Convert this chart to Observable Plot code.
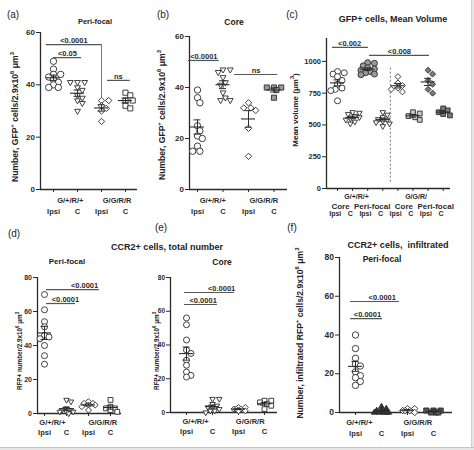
<!DOCTYPE html>
<html><head><meta charset="utf-8">
<script src="https://cdn.jsdelivr.net/npm/d3@7"></script>
<script src="https://cdn.jsdelivr.net/npm/@observablehq/plot@0.6"></script>
<style>
body{margin:0;background:#fff;font-family:"Liberation Sans",Arial,sans-serif;}
#fig{position:relative;width:474px;height:450px;overflow:hidden;background:#fff;}
.p{position:absolute;}
.t{position:absolute;white-space:nowrap;color:#222;transform:translate(-50%,-50%);line-height:1;}
.b{font-weight:bold;}
.rot{transform:translate(-50%,-50%) rotate(-90deg);}
sup{font-size:70%;vertical-align:super;line-height:0;}
</style></head><body><div id="fig"></div>
<script>
// ---------------- data ----------------
const genotypes = ["G/+/R/+", "G/G/R/R"];
const sides = ["Ipsi", "C"];
// (a) GFP+ cells, peri-focal
const a_wtIpsi = [49, 46, 44, 44, 43, 42, 41, 40, 39, 39];
const a_wtC    = [41, 41, 41, 39, 38, 36, 35, 34, 33, 30];
const a_koIpsi = [34, 34, 32, 31, 30, 26];
const a_koC    = [37, 36, 34, 34, 32, 31];
// (b) GFP+ cells, core
const b_wtIpsi = [39, 36, 34, 25, 23, 21, 20, 17, 15, 15];
const b_wtC    = [47, 47, 46, 44, 42, 41, 38, 36, 35, 35];
const b_koIpsi = [34, 32, 32, 31, 24, 13];
const b_koC    = [40, 40, 40, 39, 36];
// (c) GFP+ cells mean volume
const c_wtCoreIpsi = [920, 910, 900, 880, 850, 820, 790, 780, 770, 690];
const c_wtCoreC    = [600, 595, 585, 570, 560, 550, 540, 525, 510];
const c_wtPeriIpsi = [990, 985, 965, 950, 940, 930, 920, 910, 900, 895];
const c_wtPeriC    = [600, 580, 560, 545, 540, 530, 520, 510, 490];
const c_koCoreIpsi = [880, 830, 810, 790, 780, 760];
const c_koCoreC    = [600, 590, 570, 560, 540];
const c_koPeriIpsi = [930, 900, 850, 820, 780, 750];
const c_koPeriC    = [630, 615, 600, 585, 575];
// (d) CCR2+ total, peri-focal
const d_wtIpsi = [70, 61, 54, 51, 46, 45, 44, 40, 34, 29];
const d_wtC    = [8, 7, 3, 2, 2, 2, 1, 1, 1, 0];
const d_koIpsi = [7, 6, 6, 5, 5, 4, 2];
const d_koC    = [8, 4, 3, 3, 2, 1];
// (e) CCR2+ total, core
const e_wtIpsi = [56, 52, 43, 37, 35, 31, 28, 24, 22, 21];
const e_wtC    = [8, 8, 5, 4, 3, 3, 2, 1, 1, 0];
const e_koIpsi = [3, 3, 2, 2, 2, 1, 1];
const e_koC    = [7, 7, 6, 5, 4, 2];
// (f) CCR2+ infiltrated, peri-focal
const f_wtIpsi = [40, 33, 28, 25, 24, 21, 19, 18, 16, 14];
const f_wtC    = [3, 2, 1, 1, 0, 0, 0, 0, 0];
const f_koIpsi = [2, 2, 1, 1, 1, 0];
const f_koC    = [1, 1, 1, 0, 0, 0];
// significance brackets (from group slot, to group slot, y value, label, label slot)
const a_sig = [{t:"<0.0001", x1:-0.3, x2:2, y:55.4, tx:0.85, drop:35}, {t:"<0.05", x1:0, x2:1.17, y:50.4, tx:0.58}, {t:"ns", x1:2.25, x2:3.2, y:41.7, tx:2.7}];
const b_sig = [{t:"<0.0001", x1:-0.35, x2:0.85, y:50.6, tx:0.25}, {t:"ns", x1:1.46, x2:3.15, y:45.1, tx:2.3}];
const c_sig = [{t:"<0.002", x1:-0.33, x2:2.05, y:1110, tx:0.8}, {t:"<0.008", x1:2.12, x2:6.09, y:1047, tx:4.1}];
const d_sig = [{t:"<0.0001", x1:0.09, x2:2.5, y:72.9, tx:1.82}, {t:"<0.0001", x1:0.09, x2:1.41, y:64.7, tx:0.95}];
const e_sig = [{t:"<0.0001", x1:-0.08, x2:1.85, y:71.1, tx:1.35}, {t:"<0.0001", x1:-0.08, x2:1.19, y:64, tx:0.64}];
const f_sig = [{t:"<0.0001", x1:-0.19, x2:1.69, y:57.3, tx:1.03}, {t:"<0.0001", x1:-0.19, x2:1.04, y:48.5, tx:0.46}];

// ---------------- drawing ----------------
const FONT = '"Liberation Sans", Arial, sans-serif';
const INK = "#2b2b2b";
const triDown = {draw(ctx, size){const s=Math.sqrt(4*size/Math.sqrt(3)), h=s*Math.sqrt(3)/2; ctx.moveTo(0,2*h/3); ctx.lineTo(-s/2,-h/3); ctx.lineTo(s/2,-h/3); ctx.closePath();}};
const triUp = {draw(ctx, size){const s=Math.sqrt(4*size/Math.sqrt(3)), h=s*Math.sqrt(3)/2; ctx.moveTo(0,-2*h/3); ctx.lineTo(-s/2,h/3); ctx.lineTo(s/2,h/3); ctx.closePath();}};
const fig = document.getElementById("fig");

// deterministic scatter layout: spread tied points sideways (limited width, overlaps allowed)
function dodge(values, ky, kx, r) {
  const order = values.slice().sort((a,b)=>b-a);
  const placed = [], out = [];
  const maxOff = 2.6*r, stepOff = 0.75*r, need = 1.6*r;
  for (const v of order) {
    const py = v*ky;
    let best = 0, bestD = -1;
    for (let k=0;k<30;k++){
      const c = k===0?0:(k%2?1:-1)*Math.ceil(k/2)*stepOff;
      if (Math.abs(c) > maxOff) break;
      const d = placed.length ? Math.min(...placed.map(q=>Math.hypot(q.px-c,q.py-py))) : Infinity;
      if (d >= need) { best = c; bestD = d; break; }
      if (d > bestD) { bestD = d; best = c; }
    }
    placed.push({px:best,py}); out.push({value:v, dx:best/kx});
  }
  return out;
}

function panel(cfg) {
  const {left, top, w, h, x0, x1, yTop, yZero, first, step, yMax, yTicks, groups, sig, tickFont, labels} = cfg;
  const r = cfg.r ?? 3.2;
  const ky = (yZero-yTop)/yMax, kx = step;
  const xDom = [(x0-first)/step, (x1-first)/step];
  const pts = [], stats = [];
  groups.forEach((g,i)=>{
    dodge(g.values, ky, kx, r).forEach(p=>pts.push({x:i+p.dx, value:p.value, g:i}));
    const m = d3.mean(g.values), se = d3.deviation(g.values)/Math.sqrt(g.values.length);
    stats.push({slot:i, mean:m, lo:m-se, hi:m+se});
  });
  const marks = [
    Plot.axisY({ticks:yTicks, tickSize:4, tickPadding:1.5, fontSize:tickFont, fontWeight:"bold", tickFormat:d3.format("d"), label:null}),
    Plot.axisX({ticks:groups.map((_,i)=>i), tickSize:3, tickFormat:()=>"", label:null}),
    Plot.ruleY([0], {stroke:INK, strokeWidth:1.3}),
    Plot.ruleX([xDom[0]], {stroke:INK, strokeWidth:1.3}),
  ];
  if (cfg.divider) marks.push(Plot.ruleX([cfg.divider], {x:d=>d.x, y1:d=>d.y1, y2:d=>d.y2, stroke:"#666", strokeDasharray:"2,2", strokeWidth:0.9}));
  groups.forEach((g,i)=>{
    const isTri = g.symbol===triDown || g.symbol===triUp;
    marks.push(Plot.dot(pts.filter(p=>p.g===i), {x:"x", y:"value", symbol:g.symbol, r: isTri ? r*0.68 : (g.symbol==="circle" ? r : r*0.9), fill:g.fill ?? "white", stroke:INK, strokeWidth:0.9}));
  });
  const half = 7/kx, cap = 3.5/kx;
  marks.push(
    Plot.ruleY(stats, {y:"mean", x1:d=>d.slot-half, x2:d=>d.slot+half, stroke:INK, strokeWidth:1.1}),
    Plot.ruleX(stats, {x:"slot", y1:"lo", y2:"hi", stroke:INK, strokeWidth:1}),
    Plot.ruleY(stats, {y:"lo", x1:d=>d.slot-cap, x2:d=>d.slot+cap, stroke:INK, strokeWidth:1}),
    Plot.ruleY(stats, {y:"hi", x1:d=>d.slot-cap, x2:d=>d.slot+cap, stroke:INK, strokeWidth:1}),
    Plot.ruleY(sig, {y:"y", x1:"x1", x2:"x2", stroke:"#555", strokeWidth:1.2}),
    Plot.ruleX(sig.filter(d=>d.drop!=null), {x:"x2", y1:"drop", y2:"y", stroke:"#777", strokeWidth:1}),
    Plot.text(sig, {x:"tx", y:"y", text:"t", dy:-1.5, lineAnchor:"bottom", fontSize:cfg.sigFont ?? 7.5, fontWeight:"bold", fill:INK})
  );
  for (const [dy, rows] of d3.group(labels, d=>d.dy)) {
    marks.push(Plot.text(rows, {x:"x", y:()=>0, text:"t", dy, fontSize:rows[0].fs, fontWeight:"bold", fill:INK, lineAnchor:"middle"}));
  }
  const svg = Plot.plot({
    width:w, height:h,
    marginLeft:x0-left, marginRight:left+w-x1, marginTop:yTop-top, marginBottom:top+h-yZero,
    x:{domain:xDom, label:null},
    y:{domain:[0,yMax], label:null},
    style:{background:"transparent", fontFamily:FONT, fontWeight:"bold", color:INK, overflow:"visible"},
    marks
  });
  const div = document.createElement("div");
  div.className = "p"; div.style.left = left+"px"; div.style.top = top+"px";
  div.appendChild(svg); fig.appendChild(div);
}

function txt(html, x, y, size, cls="") {
  const d = document.createElement("div");
  d.className = "t " + cls; d.innerHTML = html;
  d.style.left = x+"px"; d.style.top = y+"px"; d.style.fontSize = size+"px";
  fig.appendChild(d);
}
function lab2(gx1, gx2, dyG, dyS, fs) {
  return [{x:gx1, t:genotypes[0], dy:dyG, fs}, {x:gx2, t:genotypes[1], dy:dyG, fs},
          {x:0, t:sides[0], dy:dyS, fs}, {x:1, t:sides[1], dy:dyS, fs}, {x:2, t:sides[0], dy:dyS, fs}, {x:3, t:sides[1], dy:dyS, fs}];
}

// (a)
panel({left:0, top:0, w:155, h:220, x0:40, x1:137, yTop:32, yZero:189, first:53, step:24, yMax:60, yTicks:[0,20,40,60], tickFont:8,
  groups:[{values:a_wtIpsi, symbol:"circle"}, {values:a_wtC, symbol:triDown}, {values:a_koIpsi, symbol:"diamond2"}, {values:a_koC, symbol:"square"}],
  sig:a_sig, labels:lab2(0.7, 2.65, 11, 22, 7.5)});
// (b)
panel({left:155, top:0, w:155, h:220, x0:189, x1:287, yTop:36, yZero:189, first:197, step:25.5, yMax:60, yTicks:[0,20,40,60], tickFont:8,
  groups:[{values:b_wtIpsi, symbol:"circle"}, {values:b_wtC, symbol:triDown}, {values:b_koIpsi, symbol:"diamond2"}, {values:b_koC, symbol:"square", fill:"#9a9a9a"}],
  sig:b_sig, labels:lab2(0.6, 2.6, 11, 22, 7.5)});
// (c)
const c_labels = [
  {x:1.26, t:genotypes[0], dy:8, fs:7}, {x:5.2, t:"G/G/R/", dy:8, fs:7},
  {x:0.2, t:"Core", dy:18, fs:8}, {x:2.3, t:"Peri-focal", dy:18, fs:8}, {x:4.4, t:"Core", dy:18, fs:8}, {x:6.5, t:"Peri-focal", dy:18, fs:8},
  ...[0,1,2,3,4,5,6,7].map(i=>({x:i-0.15, t:sides[i%2], dy:25, fs:7}))
];
panel({left:310, top:0, w:160, h:220, x0:326, x1:450, yTop:38, yZero:188, first:337, step:15.1, yMax:1180, yTicks:[0,250,500,750,1000], tickFont:7.5, r:3,
  groups:[{values:c_wtCoreIpsi, symbol:"circle"}, {values:c_wtCoreC, symbol:triDown}, {values:c_wtPeriIpsi, symbol:"circle", fill:"#9a9a9a"}, {values:c_wtPeriC, symbol:triDown},
          {values:c_koCoreIpsi, symbol:"diamond2"}, {values:c_koCoreC, symbol:"square", fill:"#c8c8c8"}, {values:c_koPeriIpsi, symbol:"diamond2", fill:"#7a7a7a"}, {values:c_koPeriC, symbol:"square", fill:"#7a7a7a"}],
  divider:{x:3.5, y1:50, y2:960}, sig:c_sig, labels:c_labels});
// (d)
panel({left:0, top:220, w:155, h:227, x0:37, x1:121, yTop:277, yZero:413, first:44, step:22, yMax:80, yTicks:[0,20,40,60,80], tickFont:7, r:3,
  groups:[{values:d_wtIpsi, symbol:"circle"}, {values:d_wtC, symbol:triDown}, {values:d_koIpsi, symbol:"diamond2"}, {values:d_koC, symbol:"square"}],
  sig:d_sig, labels:lab2(0.36, 2.65, 9, 19, 7.5)});
// (e)
panel({left:155, top:220, w:155, h:227, x0:170, x1:277, yTop:277, yZero:412, first:186, step:26, yMax:80, yTicks:[0,20,40,60,80], tickFont:6.5, r:3,
  groups:[{values:e_wtIpsi, symbol:"circle"}, {values:e_wtC, symbol:triDown}, {values:e_koIpsi, symbol:"diamond2"}, {values:e_koC, symbol:"square"}],
  sig:e_sig, labels:lab2(0.35, 2.45, 9, 19, 7.5)});
// (f)
panel({left:310, top:220, w:160, h:227, x0:339, x1:452, yTop:257, yZero:412, first:355, step:26, yMax:80, yTicks:[0,20,40,60,80], tickFont:8.5, r:3.2,
  groups:[{values:f_wtIpsi, symbol:"circle"}, {values:f_wtC, symbol:triUp, fill:"#333"}, {values:f_koIpsi, symbol:"diamond2"}, {values:f_koC, symbol:"square", fill:"#555"}],
  sig:f_sig, labels:lab2(0.15, 2.4, 10, 21, 7.5)});

// titles, panel letters, axis titles
txt("(a)", 13, 15, 10); txt("(b)", 163, 15, 10); txt("(c)", 292, 15, 10);
txt("(d)", 14, 234, 10); txt("(e)", 161, 228, 10); txt("(f)", 292, 228, 10);
txt("Peri-focal", 95, 22, 7.5, "b"); txt("Core", 234, 22, 8.5, "b"); txt("GFP+ cells, Mean Volume", 393, 19, 9, "b");
txt("CCR2+ cells, total number", 167, 247, 9, "b"); txt("Peri-focal", 67, 262, 8, "b"); txt("Core", 222, 262, 8.5, "b");
txt("CCR2+ cells,&nbsp; infiltrated", 398, 245, 9, "b"); txt("Peri-focal", 382, 259, 8.5, "b");
txt("Number, GFP<sup>+</sup> cells/2.9x10<sup>6</sup> μm<sup>3</sup>", 15, 117, 8.6, "b rot");
txt("Number, GFP<sup>+</sup> cells/2.9x10<sup>6</sup> μm<sup>3</sup>", 162, 115, 8.6, "b rot");
txt("Mean volume (μm<sup>3</sup>)", 296, 110, 8, "b rot");
txt("RFP+ number/2.9x10<sup>6</sup> μm<sup>3</sup>", 20, 351, 6.3, "b rot");
txt("RFP+ number/2.9x10<sup>6</sup> μm<sup>3</sup>", 157, 351, 6.3, "b rot");
txt("Number, infiltrated RFP<sup>+</sup> cells/2.9x10<sup>6</sup> μm<sup>3</sup>", 300, 333, 8.6, "b rot");
// frame strips
const s1 = document.createElement("div"); s1.style.cssText = "position:absolute;left:471px;top:0;width:3px;height:450px;background:#e6e6e6;border-left:1px solid #cfcfcf;"; fig.appendChild(s1);
const s2 = document.createElement("div"); s2.style.cssText = "position:absolute;left:0;top:447px;width:474px;height:3px;background:#e6e6e6;border-top:1px solid #c4c4c4;"; fig.appendChild(s2);
</script></body></html>
